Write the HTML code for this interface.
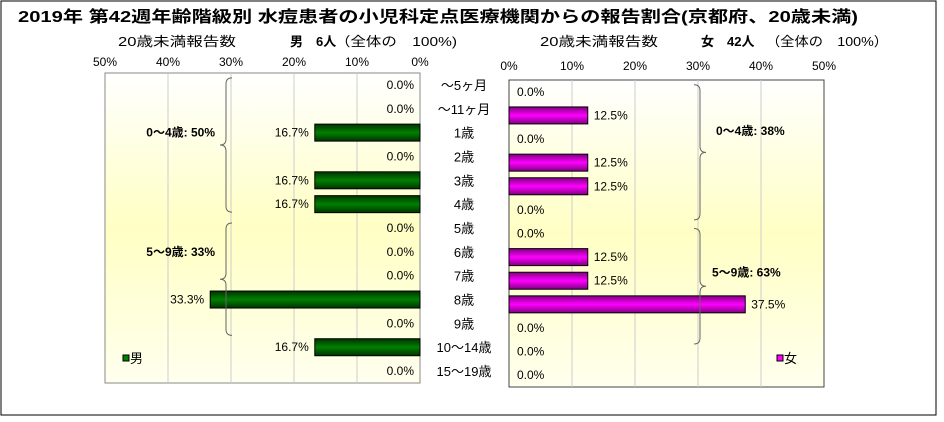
<!DOCTYPE html>
<html><head><meta charset="utf-8"><style>
body{margin:0;background:#fff}
svg{font-family:"Liberation Sans","Noto Sans CJK JP",sans-serif}
</style></head><body>
<svg id="c" width="944" height="417">
<defs>
<linearGradient id="bg" x1="0" y1="0" x2="0" y2="1"><stop offset="0" stop-color="#ffffff"/><stop offset="0.5" stop-color="#ffffc4"/><stop offset="1" stop-color="#ffffee"/></linearGradient>
<linearGradient id="gg" x1="0" y1="0" x2="0" y2="1"><stop offset="0" stop-color="#003300"/><stop offset="0.5" stop-color="#008000"/><stop offset="1" stop-color="#003300"/></linearGradient>
<linearGradient id="mg" x1="0" y1="0" x2="0" y2="1"><stop offset="0" stop-color="#800080"/><stop offset="0.5" stop-color="#ff00ff"/><stop offset="1" stop-color="#800080"/></linearGradient>
</defs>
<rect x="1" y="1" width="935" height="414" fill="none" stroke="#000"/>
<text x="18" y="22" font-size="16" font-weight="bold" textLength="840" lengthAdjust="spacingAndGlyphs">2019年 第42週年齢階級別 水痘患者の小児科定点医療機関からの報告割合(京都府、20歳未満)</text>
<text x="118" y="46" font-size="13" textLength="118" lengthAdjust="spacingAndGlyphs">20歳未満報告数</text>
<text x="290" y="46" font-size="13" font-weight="bold">男　6人</text>
<text x="335" y="46" font-size="13" textLength="122" lengthAdjust="spacingAndGlyphs">（全体の　100%)</text>
<text x="540" y="46" font-size="13" textLength="118" lengthAdjust="spacingAndGlyphs">20歳未満報告数</text>
<text x="701" y="46" font-size="13" font-weight="bold">女　42人</text>
<text x="766" y="46" font-size="13" textLength="122" lengthAdjust="spacingAndGlyphs">（全体の　100%）</text>
<g id="g"></g>
</svg>
<script>
const categories=["～5ヶ月","～11ヶ月","1歳","2歳","3歳","4歳","5歳","6歳","7歳","8歳","9歳","10～14歳","15～19歳"];
const maleValues=[0,0,16.7,0,16.7,16.7,0,0,0,33.3,0,16.7,0];
const femaleValues=[0,12.5,0,12.5,12.5,0,0,12.5,12.5,37.5,0,0,0];
const ticks=[0,10,20,30,40,50];
const groupLabelsM=["0～4歳: 50%","5～9歳: 33%"];
const groupLabelsF=["0～4歳: 38%","5～9歳: 63%"];
const NS="http://www.w3.org/2000/svg";
const g=document.getElementById('g');
function el(t,a,p){const e=document.createElementNS(NS,t);for(const k in a)e.setAttribute(k,a[k]);(p||g).appendChild(e);return e;}
function txt(x,y,s,a){const e=el('text',Object.assign({x:x,y:y,'font-size':12},a||{}));e.textContent=s;return e;}
const L={x0:420,x1:105,top:73,bot:383};
const R={x0:509,x1:824,top:80,bot:387};
const xm=v=>L.x0-(L.x0-L.x1)*v/50;
const xf=v=>R.x0+(R.x1-R.x0)*v/50;
const n=categories.length;
const ym=i=>L.top+(L.bot-L.top)*(i+0.5)/n;
const yf=i=>R.top+(R.bot-R.top)*(i+0.5)/n;
let r=el('rect',{x:L.x1,y:L.top,width:L.x0-L.x1,height:L.bot-L.top,fill:'url(#bg)',stroke:'#888'});

r=el('rect',{x:R.x0,y:R.top,width:R.x1-R.x0,height:R.bot-R.top,fill:'url(#bg)',stroke:'#444'});

ticks.forEach(t=>{
 if(t>0&&t<50){
  let l=el('line',{x1:xm(t),x2:xm(t),y1:L.top,y2:L.bot,stroke:'#ccc'});
  l=el('line',{x1:xf(t),x2:xf(t),y1:R.top,y2:R.bot,stroke:'#ccc'});
 }
 let a=txt(xm(t),66,t+'%',{'text-anchor':'middle'});
 a=txt(xf(t),70,t+'%',{'text-anchor':'middle'});
});
const bh=17;
categories.forEach((c,i)=>{
 let t=txt(464,ym(i)+5,c,{'text-anchor':'middle','font-size':13});
 const mv=maleValues[i],fv=femaleValues[i];
 if(mv>0){let b=el('rect',{x:xm(mv),y:ym(i)-bh/2,width:L.x0-xm(mv),height:bh,fill:'url(#gg)',stroke:'#000'});}
 t=txt(xm(mv)-6,ym(i)+4,mv.toFixed(1)+'%',{'text-anchor':'end'});
 if(fv>0){let b=el('rect',{x:R.x0,y:yf(i)-bh/2,width:xf(fv)-R.x0,height:bh,fill:'url(#mg)',stroke:'#000'});}
 t=txt(fv>0?xf(fv)+6:R.x0+8,yf(i)+4,fv.toFixed(1)+'%');
});
function brace(x,y1,y2,dir){const m=(y1+y2)/2,d=dir*6;
 return el('path',{d:`M${x+d},${y1} Q${x},${y1} ${x},${y1+6} L${x},${m-6} Q${x},${m} ${x-d},${m} Q${x},${m} ${x},${m+6} L${x},${y2-6} Q${x},${y2} ${x+d},${y2}`,fill:'none',stroke:'#666'});}
let b=brace(226,ym(0)-7,ym(5)+8,1);
b=brace(226,ym(6)-5,ym(10)+12,1);
b=brace(700,yf(0)-7,yf(5)+10,-1);
b=brace(700,yf(6)-5,yf(10)+16,-1);
let t=txt(215,ym(2)+4,groupLabelsM[0],{'text-anchor':'end','font-weight':'bold'});
t=txt(215,ym(7)+4,groupLabelsM[1],{'text-anchor':'end','font-weight':'bold'});
t=txt(716,yf(2)-4,groupLabelsF[0],{'font-weight':'bold'});
t=txt(712,yf(8)-4,groupLabelsF[1],{'font-weight':'bold'});
let s=el('rect',{x:123,y:355,width:6,height:6,fill:'#008000',stroke:'#000'});
t=txt(130,363,'男',{'font-size':13});
s=el('rect',{x:777,y:355,width:6,height:6,fill:'#ff00ff',stroke:'#000'});
t=txt(784,363,'女',{'font-size':13});
</script>
</body></html>
